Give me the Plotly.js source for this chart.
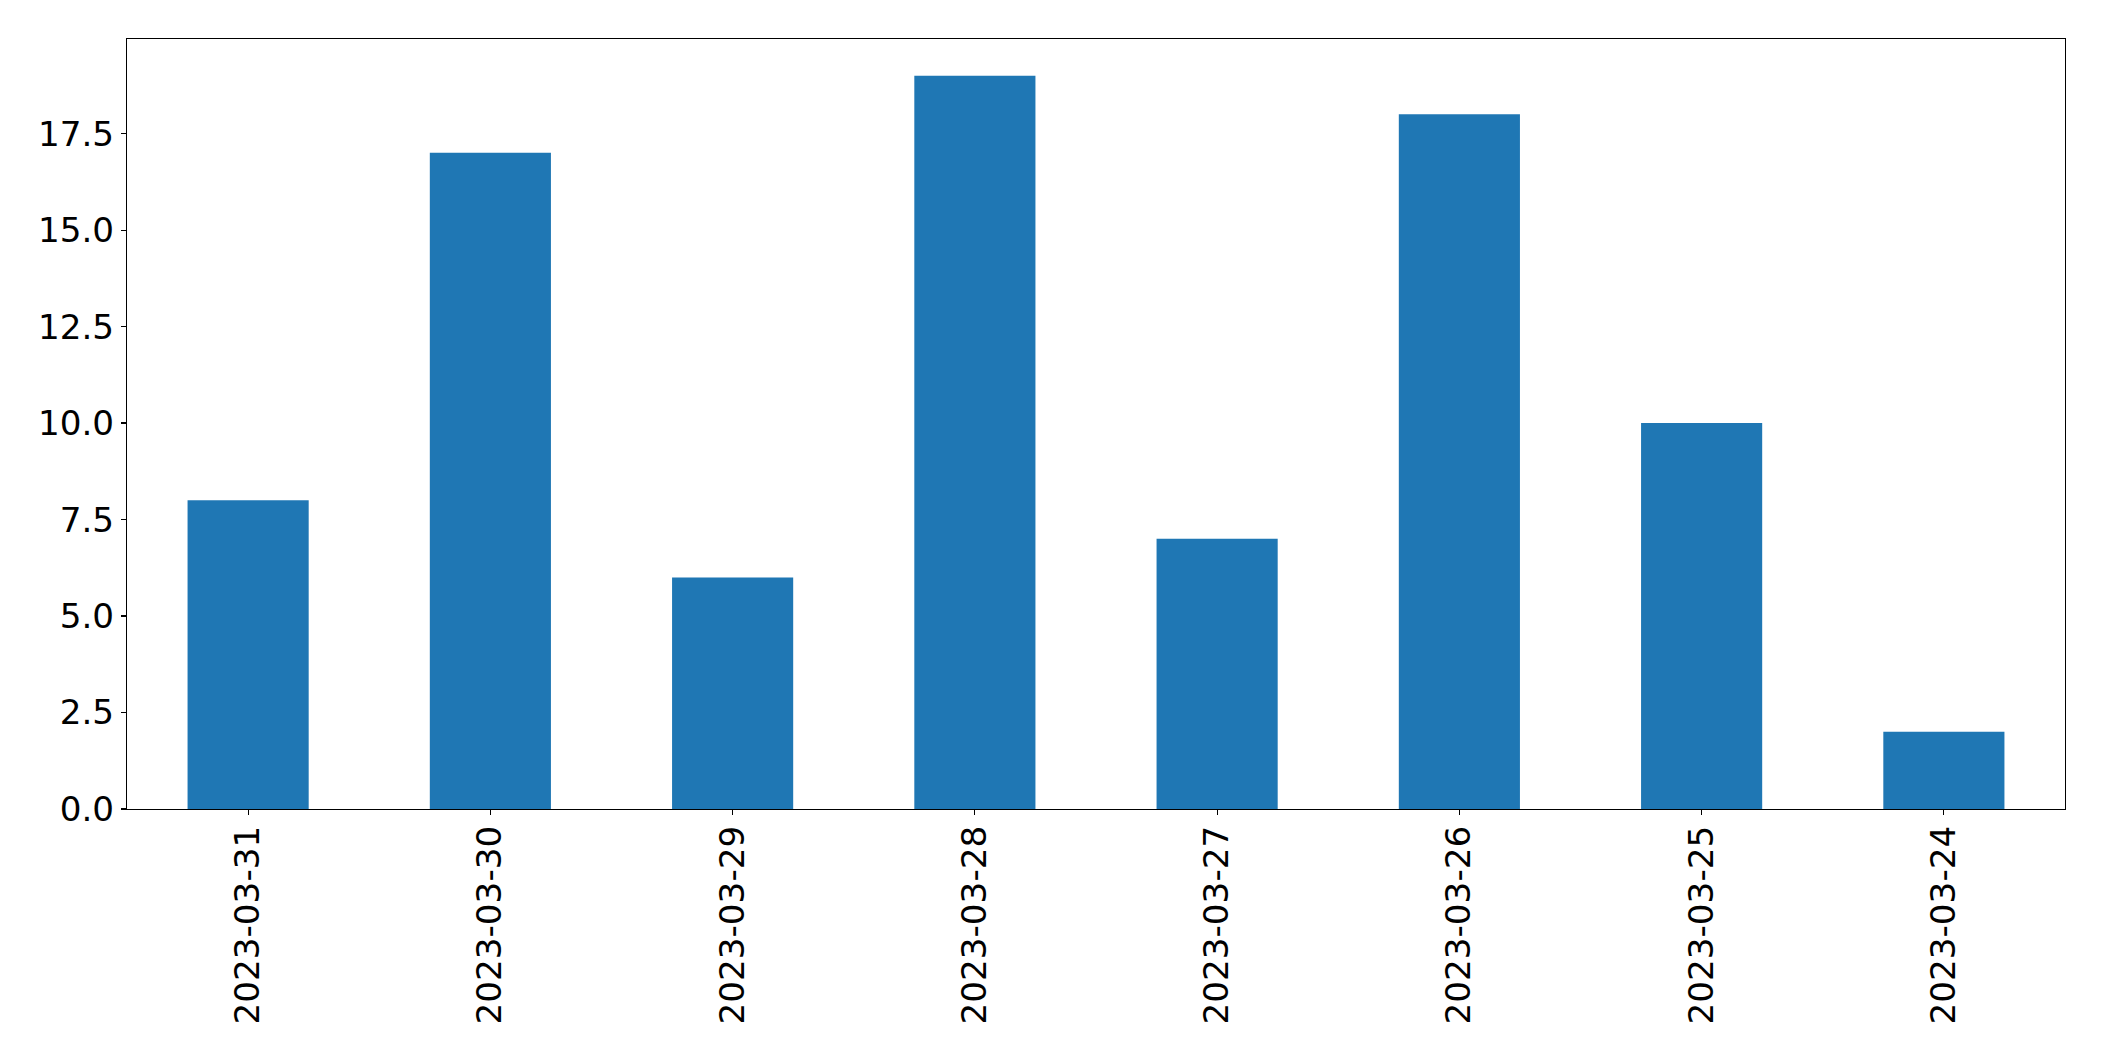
<!DOCTYPE html>
<html>
<head>
<meta charset="utf-8">
<script src="https://cdn.plot.ly/plotly-3.0.1.min.js"></script>
<style>html,body{margin:0;padding:0;background:#fff;}#chart{width:2104px;height:1061px;}</style>
</head>
<body>
<div id="chart"></div>
<script>
const categories = ["2023-03-31","2023-03-30","2023-03-29","2023-03-28","2023-03-27","2023-03-26","2023-03-25","2023-03-24"];
const values = [8, 17, 6, 19, 7, 18, 10, 2];
const yTickVals = [0, 2.5, 5, 7.5, 10, 12.5, 15, 17.5];

const trace = {
  type: 'bar',
  x: categories,
  y: values,
  marker: {color: '#1f77b4', line: {width: 0}},
  hoverinfo: 'x+y'
};

const layout = {
  width: 2104,
  height: 1061,
  margin: {l: 127, r: 39, t: 39, b: 252, pad: 0},
  paper_bgcolor: '#fff',
  plot_bgcolor: '#fff',
  font: {family: 'DejaVu Sans', size: 34.2, color: '#000'},
  showlegend: false,
  bargap: 0.5,
  xaxis: {
    type: 'category',
    range: [-0.5, 7.5],
    tickangle: -90,
    showgrid: false,
    zeroline: false,
    showline: true,
    linecolor: '#000',
    linewidth: 1.1,
    mirror: true,
    ticks: 'outside',
    ticklen: 5,
    tickwidth: 1.1,
    tickcolor: '#000',
    ticklabelstandoff: -3
  },
  yaxis: {
    range: [0, 19.95],
    tickvals: yTickVals,
    tickformat: '.1f',
    showgrid: false,
    zeroline: false,
    showline: true,
    linecolor: '#000',
    linewidth: 1.1,
    mirror: true,
    ticks: 'outside',
    ticklen: 5,
    tickwidth: 1.1,
    tickcolor: '#000',
    ticklabelstandoff: 0
  }
};

Plotly.newPlot('chart', [trace], layout, {displayModeBar: false, staticPlot: true});
</script>
</body>
</html>
